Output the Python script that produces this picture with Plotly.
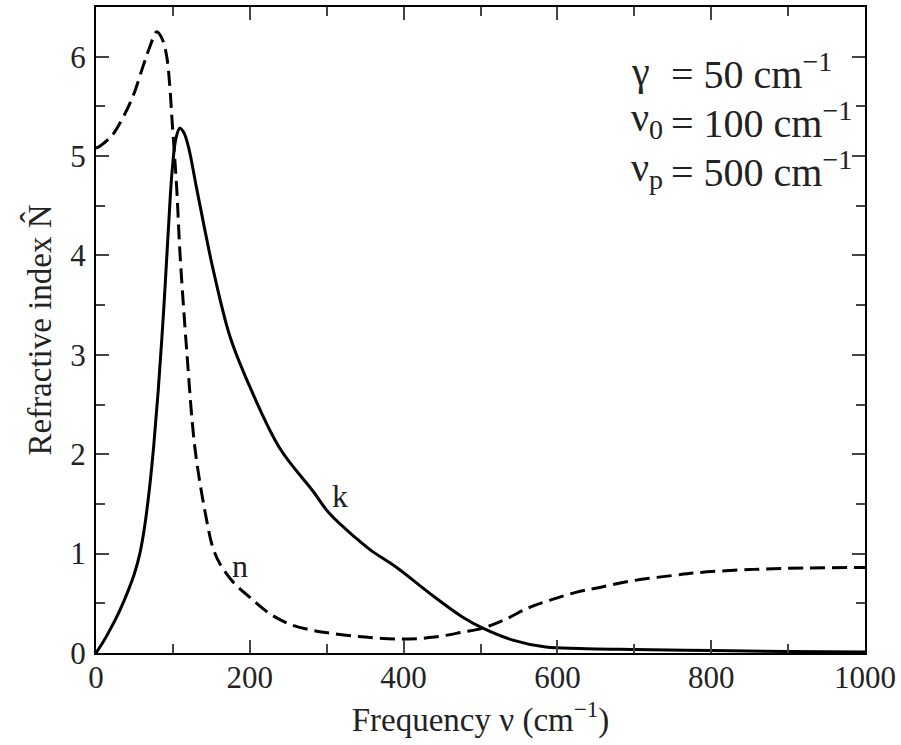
import plotly.graph_objects as go

# Refractive index n (dashed)
n_freq = [0, 5, 20, 31, 48, 61, 70, 79, 86, 92, 96, 99, 105, 109, 118, 129, 144, 152, 161,
          180, 200, 225, 252, 280, 304, 350, 399, 440, 477, 503, 530, 564, 590, 624, 655,
          700, 750, 784, 850, 920, 1000]
n_vals = [5.08, 5.10, 5.20, 5.33, 5.60, 5.90, 6.10, 6.25, 6.18, 6.00, 5.70, 5.35, 4.67, 4.05,
          3.04, 2.04, 1.33, 1.06, 0.90, 0.70, 0.56, 0.40, 0.29, 0.23, 0.20, 0.16, 0.14, 0.16,
          0.21, 0.25, 0.33, 0.46, 0.53, 0.61, 0.66, 0.73, 0.78, 0.81, 0.84, 0.855, 0.86]

# Extinction coefficient k (solid)
k_freq = [0, 10, 20, 31, 42, 50, 57, 63, 69, 75, 81, 88, 94, 99, 104, 109, 114, 120, 131, 142,
          152, 174, 200, 239, 282, 304, 339, 358, 391, 434, 477, 503, 542, 585, 629, 700,
          800, 900, 1000]
k_vals = [0.0, 0.12, 0.26, 0.43, 0.63, 0.80, 1.00, 1.26, 1.62, 2.08, 2.65, 3.45, 4.25, 4.85,
          5.18, 5.28, 5.24, 5.10, 4.67, 4.24, 3.87, 3.19, 2.68, 2.06, 1.63, 1.40, 1.15, 1.03,
          0.86, 0.60, 0.36, 0.25, 0.13, 0.06, 0.045, 0.035, 0.025, 0.015, 0.01]

x_ticks = [0, 200, 400, 600, 800, 1000]
y_ticks = [0, 1, 2, 3, 4, 5, 6]

FONT = "Liberation Serif"
TXT = "#222222"

fig = go.Figure()
fig.add_trace(go.Scatter(x=n_freq, y=n_vals, mode="lines", line_shape="spline",
                         line=dict(color="black", width=3, dash="15px,7px"),
                         showlegend=False, hoverinfo="skip"))
fig.add_trace(go.Scatter(x=k_freq, y=k_vals, mode="lines", line_shape="spline",
                         line=dict(color="black", width=3),
                         showlegend=False, hoverinfo="skip"))

axis_common = dict(
    showgrid=False, zeroline=False, showline=True, linecolor="black", linewidth=2,
    mirror="allticks", ticks="inside", ticklen=13, tickwidth=1.5, tickcolor="#444444",
    tickfont=dict(family=FONT, size=31, color=TXT),
)

fig.update_xaxes(
    range=[0, 1000], tickvals=x_ticks, ticktext=[str(v) for v in x_ticks],
    minor=dict(ticks="inside", ticklen=9, tickwidth=1.5, tickcolor="#444444", dtick=100, showgrid=False),
    title=dict(text="Frequency ν (cm<sup>−1</sup>)", font=dict(family=FONT, size=33, color=TXT), standoff=14),
    ticklabelstandoff=-4,
    **axis_common,
)
fig.update_yaxes(
    range=[0, 6.5], tickvals=y_ticks, ticktext=[str(v) for v in y_ticks],
    minor=dict(ticks="inside", ticklen=9, tickwidth=1.5, tickcolor="#444444", dtick=0.5, showgrid=False),
    title=dict(text="Refractive index N\u0302", font=dict(family=FONT, size=33, color=TXT), standoff=9),
    ticklabelstandoff=2,
    **axis_common,
)

ann_font = dict(family=FONT, size=40, color=TXT)
lines_sym = ["γ", "ν<sub>0</sub>", "ν<sub>p</sub>"]
lines_val = ["= 50 cm<sup>−1</sup>", "= 100 cm<sup>−1</sup>", "= 500 cm<sup>−1</sup>"]
ys = [0.900, 0.825, 0.748]
for s, v, y in zip(lines_sym, lines_val, ys):
    fig.add_annotation(x=0.6935, y=y, xref="paper", yref="paper", text=s, showarrow=False,
                       xanchor="left", yanchor="middle", font=ann_font)
    fig.add_annotation(x=0.745, y=y, xref="paper", yref="paper", text=v, showarrow=False,
                       xanchor="left", yanchor="middle", font=ann_font)

fig.add_annotation(x=187, y=0.88, text="n", showarrow=False, font=dict(family=FONT, size=32, color=TXT))
fig.add_annotation(x=317, y=1.58, text="k", showarrow=False, font=dict(family=FONT, size=32, color=TXT))

fig.update_layout(
    width=901, height=745,
    margin=dict(l=96, r=35, t=5, b=92),
    plot_bgcolor="white", paper_bgcolor="white",
)

fig.write_html("out.html")
